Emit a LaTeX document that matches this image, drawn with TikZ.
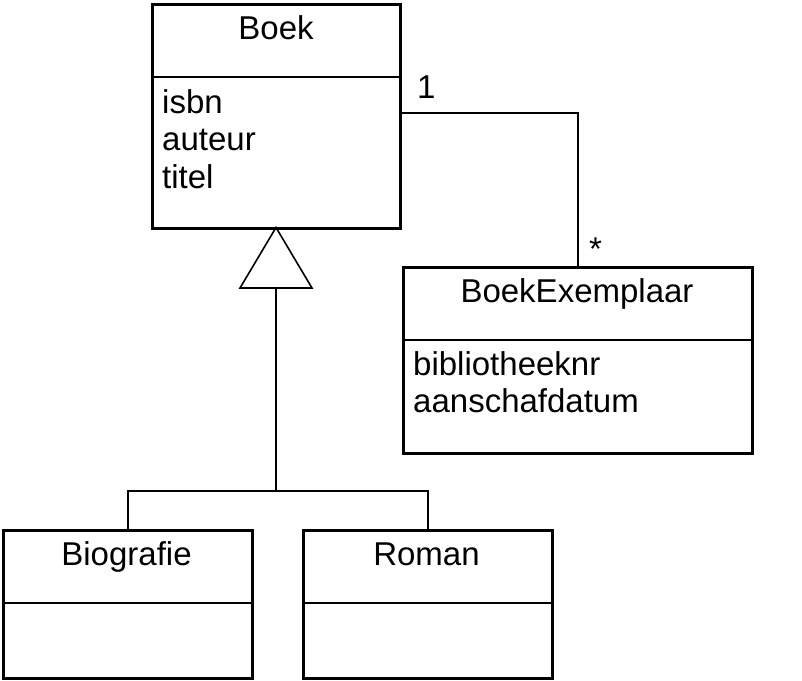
\documentclass[tikz,border=0pt]{standalone}
\usepackage{fontspec}
\setmainfont{Liberation Sans}
\begin{document}
\begin{tikzpicture}[x=1pt,y=-1pt,
  every node/.style={font=\fontsize{33}{37.5}\selectfont, text=black},
  cls/.style={draw=black, line width=3pt, inner sep=0pt, anchor=north west},
  div/.style={draw=black, line width=1.8pt},
  conn/.style={draw=black, line width=1.6pt},
  cname/.style={anchor=base, inner sep=0pt},
  attr/.style={anchor=base west, inner sep=0pt},
  mult/.style={anchor=base west, inner sep=0pt}]
\useasboundingbox (0,0) rectangle (802,680);
% class boxes
\node[cls, minimum width=248pt, minimum height=224.5pt] (boek) at (151,2.5) {};
\node[cls, minimum width=349.5pt, minimum height=186pt] (bex) at (401.5,265.5) {};
\node[cls, minimum width=249.5pt, minimum height=148pt] (bio) at (1.5,529) {};
\node[cls, minimum width=248.5pt, minimum height=148pt] (roman) at (302,529) {};
% dividers
\draw[div] (boek.west |- 0,77) -- (boek.east |- 0,77);
\draw[div] (bex.west |- 0,340) -- (bex.east |- 0,340);
\draw[div] (bio.west |- 0,603) -- (bio.east |- 0,603);
\draw[div] (roman.west |- 0,603) -- (roman.east |- 0,603);
% names
\node[cname] (boekname) at (276,39) {Boek};
\node[cname] (bexname) at (577,302) {BoekExemplaar};
\node[cname] (bioname) at (126.5,565) {Biografie};
\node[cname] (romanname) at (426.5,565) {Roman};
% attributes
\node[attr] (a1) at (162,113) {isbn};
\node[attr] (a2) at (162,150.5) {auteur};
\node[attr] (a3) at (162,188) {titel};
\node[attr] (b1) at (413,375) {bibliotheeknr};
\node[attr] (b2) at (413,412.5) {aanschafdatum};
% generalization
\coordinate (tribase) at (276,288);
\coordinate (gen) at (276,491);
\draw[conn, line join=miter] (276,227.5) -- (240,288) -- (312,288) -- cycle;
\draw[conn] (tribase) -- (gen);
\draw[conn] (bio.north) |- (gen) -| (roman.north);
% association
\coordinate (bexend) at (578,265.5);
\draw[conn] (boek.east |- 0,113) -| (bexend);
\node[mult] (m1) at (417,98) {1};
\node[mult] (m2) at (589,260) {*};
\end{tikzpicture}
\end{document}
